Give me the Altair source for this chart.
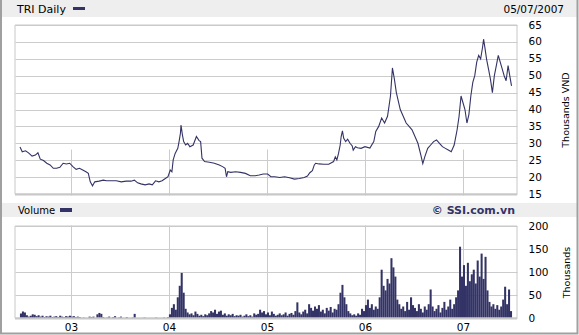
import altair as alt
import pandas as pd

# ---- data ----
price_t = [2002.48, 2002.503, 2002.537, 2002.57, 2002.603, 2002.637, 2002.663, 2002.687, 2002.72, 2002.753,
           2002.787, 2002.82, 2002.853, 2002.887, 2002.92, 2002.953, 2002.987, 2003.02, 2003.053, 2003.087,
           2003.12, 2003.153, 2003.177, 2003.197, 2003.22, 2003.243, 2003.287, 2003.33, 2003.363, 2003.397,
           2003.463, 2003.513, 2003.563, 2003.613, 2003.647, 2003.68, 2003.713, 2003.757, 2003.797, 2003.83,
           2003.863, 2003.897, 2003.93, 2003.963, 2003.99, 2004.013, 2004.03, 2004.043, 2004.063, 2004.09,
           2004.103, 2004.117, 2004.123, 2004.137, 2004.15, 2004.17, 2004.19, 2004.213, 2004.247, 2004.28,
           2004.307, 2004.323, 2004.337, 2004.363, 2004.413, 2004.463, 2004.513, 2004.547, 2004.573, 2004.587,
           2004.6, 2004.63, 2004.68, 2004.73, 2004.78, 2004.83, 2004.88, 2004.92, 2004.963, 2005.007,
           2005.04, 2005.08, 2005.13, 2005.18, 2005.23, 2005.28, 2005.33, 2005.38, 2005.413, 2005.437,
           2005.463, 2005.483, 2005.497, 2005.53, 2005.58, 2005.63, 2005.68, 2005.697, 2005.713, 2005.73,
           2005.747, 2005.757, 2005.77, 2005.783, 2005.803, 2005.823, 2005.847, 2005.87, 2005.88, 2005.903,
           2005.923, 2005.96, 2006.0, 2006.05, 2006.09, 2006.11, 2006.14, 2006.17, 2006.2, 2006.23,
           2006.26, 2006.28, 2006.3, 2006.32, 2006.34, 2006.36, 2006.39, 2006.42, 2006.45, 2006.48,
           2006.51, 2006.54, 2006.57, 2006.59, 2006.61, 2006.64, 2006.67, 2006.70, 2006.73, 2006.76,
           2006.79, 2006.82, 2006.85, 2006.88, 2006.91, 2006.94, 2006.96, 2006.98, 2007.0, 2007.02,
           2007.04, 2007.06, 2007.08, 2007.10, 2007.12, 2007.14, 2007.16, 2007.18, 2007.2, 2007.21,
           2007.225, 2007.24, 2007.26, 2007.28, 2007.30, 2007.32, 2007.34, 2007.36, 2007.38, 2007.40,
           2007.42, 2007.44, 2007.46, 2007.48, 2007.495]
price_v = [28.9, 27.5, 27.8, 27.1, 26.2, 26.5, 27.2, 25.3, 24.9, 24.1,
           23.6, 22.6, 22.6, 22.9, 24.1, 23.9, 24.1, 23.1, 22.3, 22.6,
           22.1, 21.6, 21.1, 18.6, 17.4, 18.6, 18.8, 19.1, 18.9, 18.9,
           18.9, 18.6, 18.8, 18.8, 19.1, 18.3, 18.0, 17.7, 18.0, 17.7,
           18.9, 18.6, 18.9, 19.6, 20.1, 22.1, 21.6, 25.1, 27.0, 28.5,
           30.5, 33.0, 35.4, 32.5, 30.5, 29.5, 30.0, 29.0, 29.5, 32.0,
           30.8, 30.5, 25.6, 24.6, 24.4, 24.1, 23.6, 23.1, 22.6, 20.1,
           21.6, 21.4, 21.6, 21.4, 21.1, 20.4, 20.4, 20.6, 20.9, 20.9,
           20.1, 20.1, 19.9, 20.1, 19.8, 19.4, 19.6, 19.9, 20.3, 21.3,
           21.9, 23.6, 24.1, 23.9, 23.8, 23.8, 24.6, 26.0, 25.1, 27.0,
           29.5, 32.0, 33.7, 31.5, 30.5, 31.2, 30.0, 29.2, 28.0, 29.0,
           28.7, 28.5, 29.0, 28.6, 30.5, 33.5, 35.0, 37.5, 36.0, 38.0,
           44.0, 52.3, 49.0, 45.0, 42.5, 40.0, 38.0, 36.0, 35.0, 34.0,
           32.0, 30.0, 26.5, 24.0, 26.0, 28.5, 29.5, 30.5, 31.0, 30.0,
           29.0, 28.5, 28.0, 27.5, 29.5, 34.0, 38.0, 44.0, 42.0, 40.0,
           36.0, 38.5, 44.0, 48.0, 50.0, 54.0, 56.0, 55.0, 58.5, 60.8,
           58.0, 55.0, 52.0, 49.0, 45.0, 50.0, 53.0, 56.0, 54.0, 52.0,
           50.0, 48.5, 53.0, 49.5, 47.0]

vol_v = [10, 14, 12, 6, 3, 5, 8, 7, 4, 6, 3, 5, 2, 4, 3, 5, 2, 3, 4, 2, 5, 3, 2, 4, 3, 5,
         3, 4, 2, 3, 2, 0, 1, 0, 0, 3, 2, 3, 0, 8, 11, 9, 2, 0, 1, 3, 0, 2, 4, 0, 1,
         3, 0, 0, 2, 0, 0, 1, 9, 0, 0, 0, 0, 1, 0, 0, 0, 0, 0, 1, 0, 0, 0, 1, 0, 2,
         8, 22, 30, 18, 45, 70, 98, 55, 20,
         12, 8, 10, 6, 14, 9, 5, 7, 4, 8, 6, 10, 15, 12, 18, 9, 14, 16, 7, 10,
         5, 8, 6, 9, 4, 6, 5, 7, 3, 5, 8, 4, 6, 3, 10, 7, 9, 18, 12,
         15, 8, 12, 6, 14, 9, 5, 7, 10, 6, 8, 12, 5, 9, 11, 7, 15, 34, 12, 8,
         14, 18, 10, 30, 22, 16, 25, 20, 28, 14, 18, 10, 22, 16, 24, 12, 20, 18, 30,
         55, 72, 45, 30, 15, 10, 6, 8, 5, 10, 7, 20, 15, 28, 40, 22, 30, 18, 25, 20,
         45, 105, 70, 60, 85, 75, 130, 110, 90, 40,
         30, 20, 25, 15, 35, 18, 45, 28, 22, 15, 30, 20, 12, 25, 18, 30, 62, 25, 15, 20,
         28, 12, 22, 35, 18, 25, 40, 20, 30, 45,
         60, 155, 90, 115, 70, 120, 80, 95, 105, 75, 125, 90, 140, 85, 133, 60, 35, 25,
         30, 20, 28, 18, 25, 40, 68, 30, 62, 15]
vol_t = [round(2002.49 + 0.02 * i, 3) for i in range(len(vol_v))]

year_ticks = [2003, 2004, 2005, 2006, 2007]
price_ticks = [15, 20, 25, 30, 35, 40, 45, 50, 55, 60, 65]
vol_ticks = [0, 50, 100, 150, 200]

NAVY = "#333366"
GRID = "#cccccc"
FONT = "DejaVu Sans"
W, H = 502, 293
PH = 169   # price panel bottom (plot coords)
VT = 201   # volume panel top (plot coords)

xscale = alt.Scale(domain=[2002.48, 2007.50], nice=False, zero=False)


def xaxis():
    return alt.Axis(values=year_ticks, labelExpr="substring(toString(datum.value), 2, 4)",
                    grid=True, gridColor=GRID, domain=False, ticks=False, labelPadding=4,
                    title=None, labelFont=FONT, labelFontSize=10.5, labelColor="#000")


price_df = pd.DataFrame({"t": price_t, "p": price_v})
vol_df = pd.DataFrame({"t": vol_t, "v": vol_v})

price = alt.Chart(price_df).mark_line(color=NAVY, strokeWidth=1.1).encode(
    x=alt.X("t:Q", scale=xscale, axis=xaxis()),
    y=alt.Y("p:Q", scale=alt.Scale(domain=[15, 65], range=[PH, 0], nice=False, zero=False),
            axis=alt.Axis(orient="right", values=price_ticks, grid=True, gridColor=GRID,
                          domain=False, ticks=False, labelPadding=11, labelAlign="left",
                          labelFont=FONT, labelFontSize=10.5, labelColor="#000",
                          title="Thousands VND", titleAngle=270, titleX=48, titleY=84.5,
                          titleAlign="center", titleBaseline="middle", titleFont=FONT,
                          titleFontSize=9.5, titleFontWeight="normal", titleColor="#000")),
)

vol = alt.Chart(vol_df).mark_bar(color=NAVY, size=2.05).encode(
    x=alt.X("t:Q", scale=xscale, axis=xaxis()),
    y=alt.Y("v:Q", scale=alt.Scale(domain=[0, 200], range=[H, VT], nice=False),
            axis=alt.Axis(orient="right", values=vol_ticks, grid=True, gridColor=GRID,
                          domain=False, ticks=False, labelPadding=11, labelAlign="left",
                          labelFont=FONT, labelFontSize=10.5, labelColor="#000",
                          title="Thousands", titleAngle=270, titleX=49, titleY=247,
                          titleAlign="center", titleBaseline="middle", titleFont=FONT,
                          titleFontSize=9.5, titleFontWeight="normal", titleColor="#000")),
)

one = alt.Data(values=[{"k": 1}])


def rect(x, x2, y, y2, **kw):
    return alt.Chart(one).mark_rect(**kw).encode(
        x=alt.value(x), x2=alt.value(x2), y=alt.value(y), y2=alt.value(y2))


def rule(x, x2, y, y2, **kw):
    return alt.Chart(one).mark_rule(**kw).encode(
        x=alt.value(x), x2=alt.value(x2), y=alt.value(y), y2=alt.value(y2))


def text(s, x, y, **kw):
    return alt.Chart(one).mark_text(font=FONT, baseline="alphabetic", **kw).encode(
        x=alt.value(x), y=alt.value(y), text=alt.value(s))


layers = [
    price, vol,
    rect(-1, 503, 170.5, 200.5, color="white"),
    rect(-13, 562, -25, -8, color="#eeeeee"),
    rect(-13, 562, 178, 192, color="#eeeeee"),
    rect(0, 502, 0, PH, fill=None, fillOpacity=0, stroke="#c8c8c8", strokeWidth=1),
    rect(0, 502, VT, H, fill=None, fillOpacity=0, stroke="#c8c8c8", strokeWidth=1),
    rule(0, 502, PH + 0.5, PH + 0.5, color="#c8c8c8", strokeWidth=2),
    rule(0, 502, H + 0.5, H + 0.5, color="#c8c8c8", strokeWidth=2),
    rect(-14, 562.5, -26, 308.5, fill=None, fillOpacity=0, stroke="#a0a0a0", strokeWidth=2),
    text("TRI Daily", 2, -12, align="left", fontSize=11, color="#000"),
    rect(58, 70, -18, -15, color=NAVY),
    text("05/07/2007", 549, -12, align="right", fontSize=10.5, color="#000"),
    text("Volume", 3, 189, align="left", fontSize=10, color="#000"),
    rect(45, 57, 183, 187, color=NAVY),
    text("\u00a9 SSI.com.vn", 500, 189, align="right", fontSize=11, fontWeight="bold", color=NAVY),
]

chart = alt.layer(*layers).resolve_scale(y="independent").resolve_axis(y="independent").properties(
    width=W, height=H,
    padding={"left": 15, "top": 25, "right": 62, "bottom": 17},
    autosize=alt.AutoSizeParams(type="none"),
    background="white",
).configure_view(stroke=None)

chart.save("out.html", embed_options={"renderer": "svg", "actions": False})
